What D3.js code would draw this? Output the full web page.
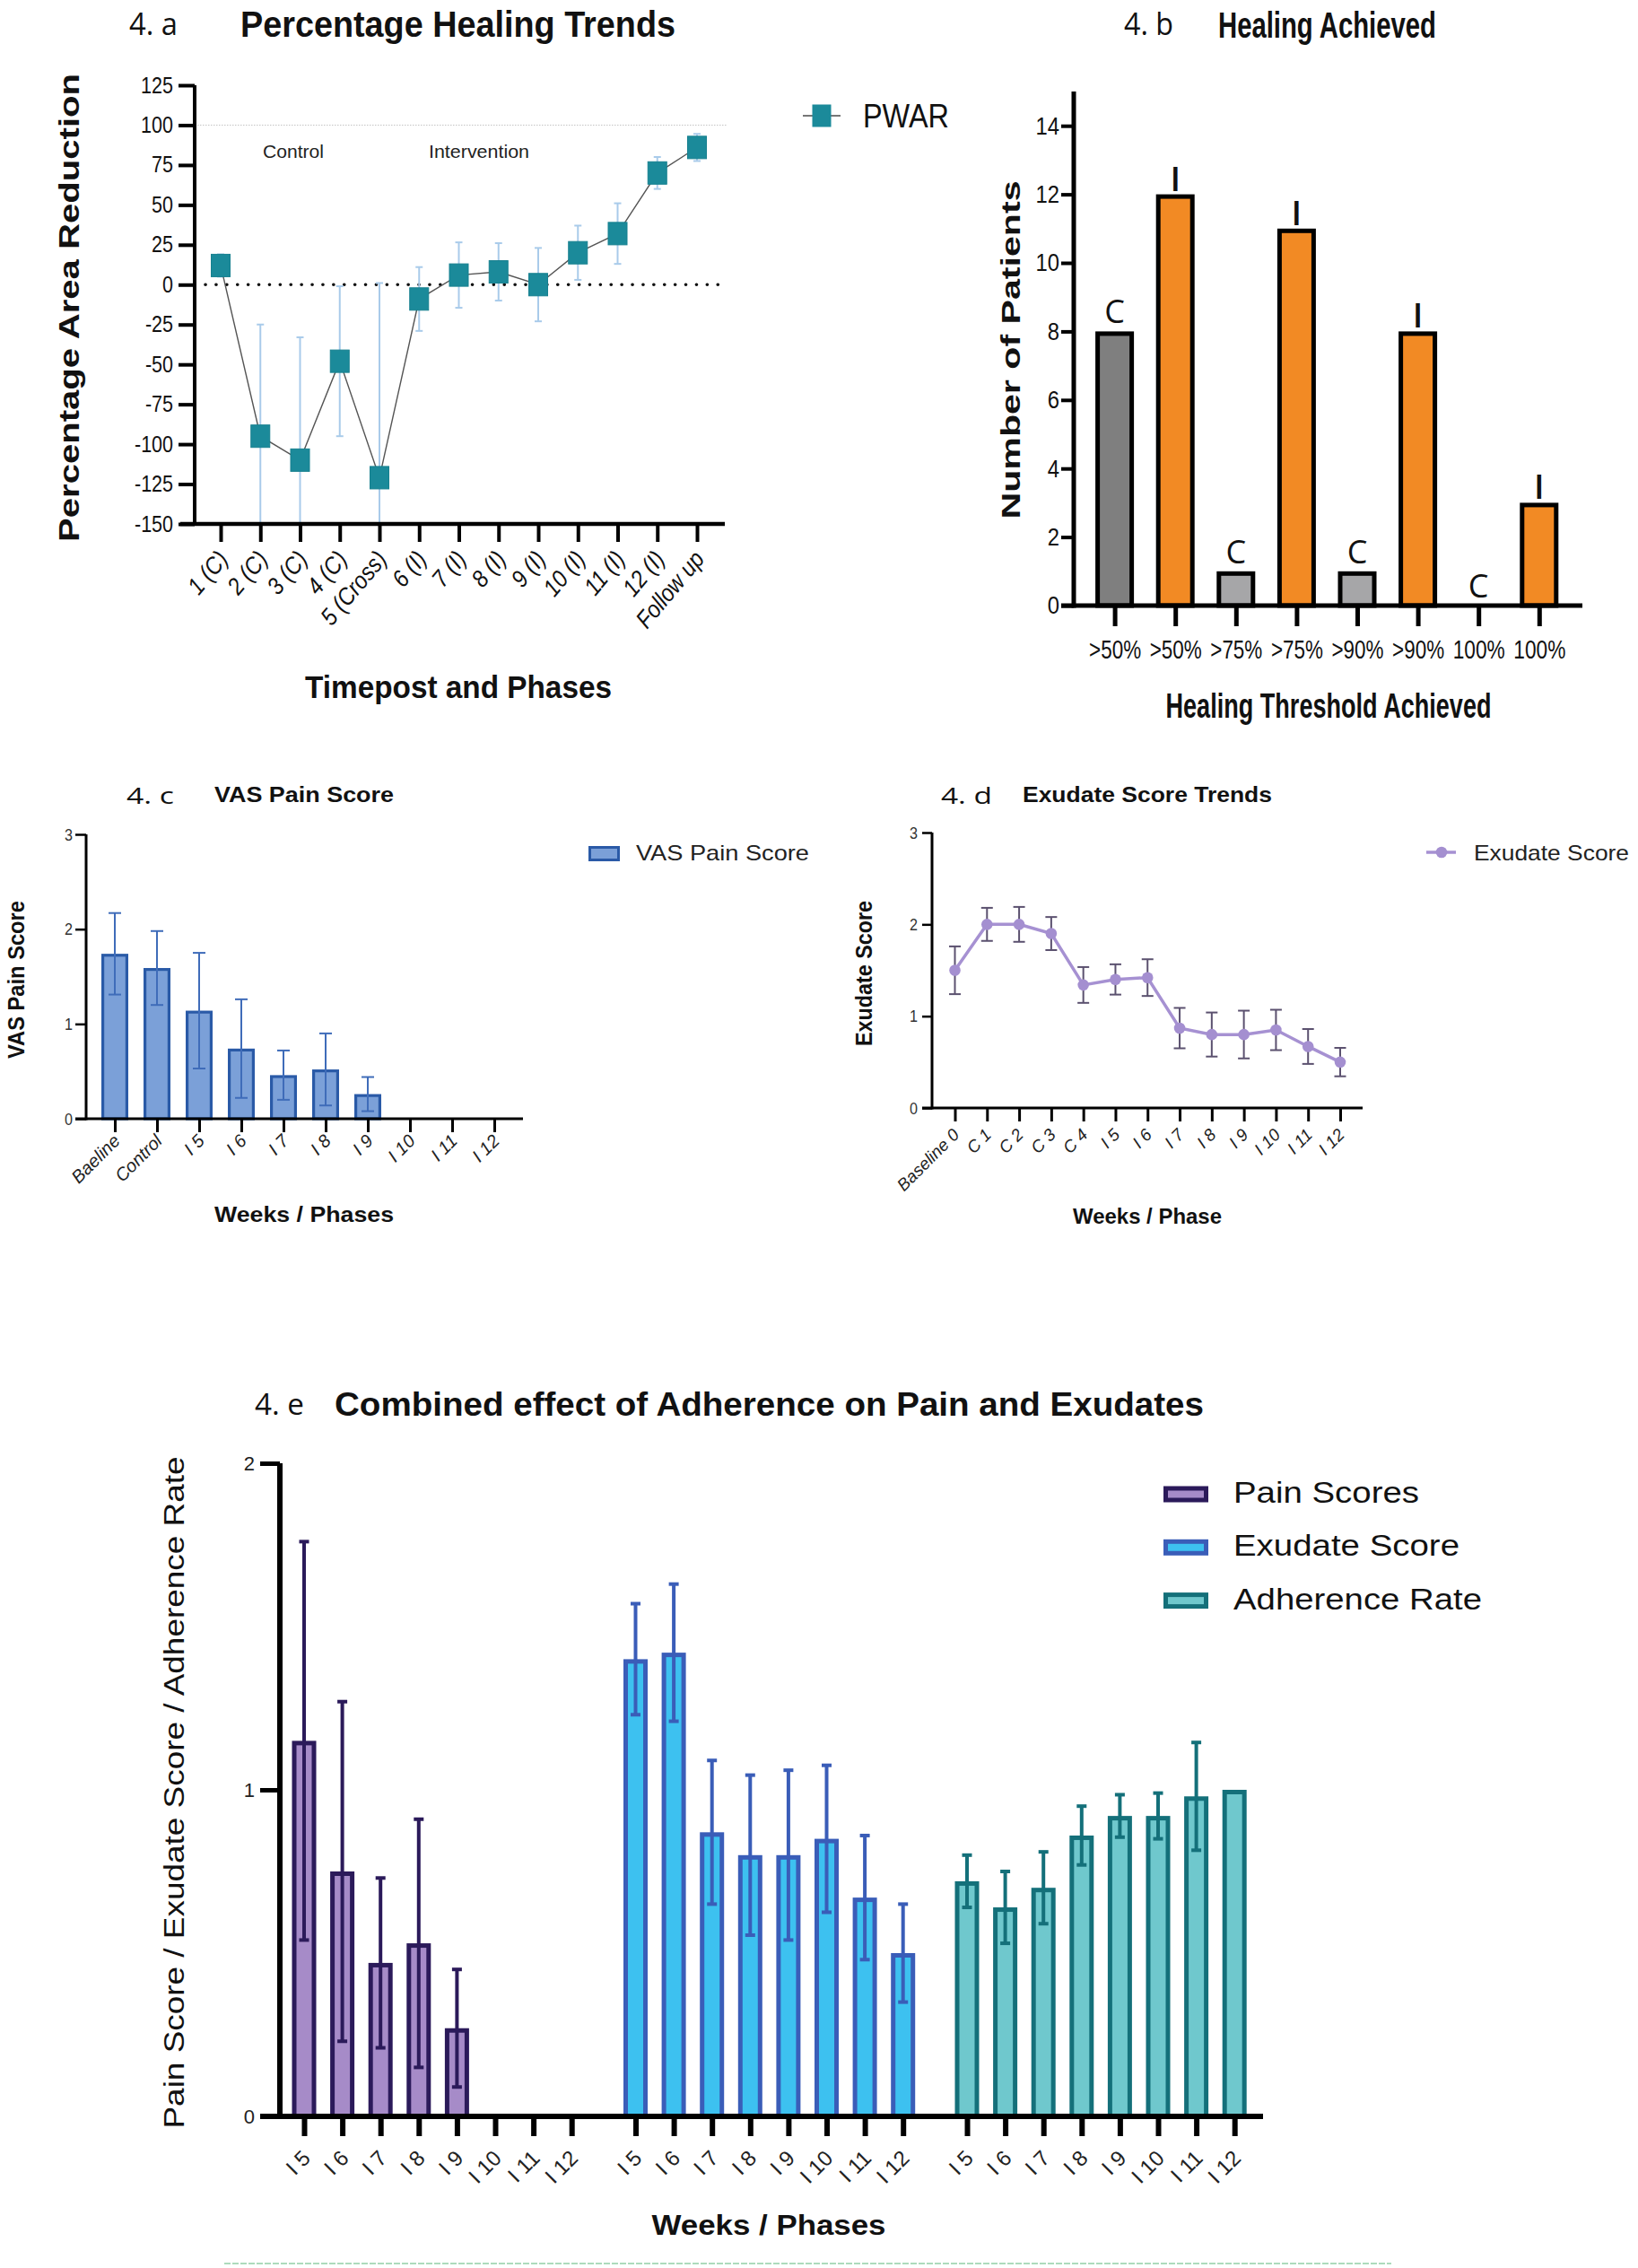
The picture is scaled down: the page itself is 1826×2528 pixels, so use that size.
<!DOCTYPE html>
<html><head><meta charset="utf-8">
<script src="https://cdn.jsdelivr.net/npm/d3@7"></script>
<style>body{margin:0;background:#fff}</style>
</head><body>
<svg id="c" width="1826" height="2528"></svg>
<script>
// ---------- DATA ----------
// 4.a Percentage Healing Trends
const timeposts = ["1 (C)","2 (C)","3 (C)","4 (C)","5 (Cross)","6 (I)","7 (I)","8 (I)","9 (I)","10 (I)","11 (I)","12 (I)","Follow up"];
const pwarMean = [12, -95, -110, -48, -121, -9, 6, 8, 0, 20, 32, 70, 86];
const pwarSD   = [7, 70, 77, 47, 122, 20, 20.5, 18, 23, 17, 19, 10, 8.5];
const pwarTicks = [-150,-125,-100,-75,-50,-25,0,25,50,75,100,125];

// 4.b Healing Achieved
const thresholds = [">50%",">50%",">75%",">75%",">90%",">90%","100%","100%"];
const armLabels  = ["C","I","C","I","C","I","C","I"];
const patients   = [8, 12, 1, 11, 1, 8, 0, 3];
const patientTicks = [0,2,4,6,8,10,12,14];

// 4.c VAS Pain Score
const vasWeeks = ["Baeline","Control","I 5","I 6","I 7","I 8","I 9","I 10","I 11","I 12"];
const vasMean  = [1.74, 1.59, 1.14, 0.74, 0.46, 0.52, 0.26, 0, 0, 0];
const vasSD    = [0.43, 0.39, 0.61, 0.52, 0.26, 0.38, 0.18, 0, 0, 0];
const scoreTicks = [0,1,2,3];

// 4.d Exudate Score Trends
const exWeeks = ["Baseline 0","C 1","C 2","C 3","C 4","I 5","I 6","I 7","I 8","I 9","I 10","I 11","I 12"];
const exMean  = [1.5, 2.0, 2.0, 1.9, 1.34, 1.4, 1.42, 0.87, 0.8, 0.8, 0.85, 0.67, 0.5];
const exSD    = [0.26, 0.18, 0.19, 0.18, 0.195, 0.165, 0.2, 0.22, 0.24, 0.26, 0.22, 0.19, 0.155];

// 4.e Combined effect
const weeksE = ["I 5","I 6","I 7","I 8","I 9","I 10","I 11","I 12"];
const seriesE = ["Pain Scores","Exudate Score","Adherence Rate"];
const painMean = [1.15, 0.75, 0.47, 0.53, 0.27, 0, 0, 0];
const painSD   = [0.61, 0.52, 0.26, 0.38, 0.18, 0, 0, 0];
const exudMean = [1.40, 1.42, 0.87, 0.80, 0.80, 0.85, 0.67, 0.50];
const exudSD   = [0.17, 0.21, 0.22, 0.245, 0.26, 0.225, 0.19, 0.15];
const adhMean  = [0.72, 0.64, 0.70, 0.86, 0.92, 0.92, 0.98, 1.0];
const adhSD    = [0.08, 0.11, 0.11, 0.09, 0.065, 0.07, 0.165, 0];
const combTicks = [0,1,2];

// ---------- STYLE ----------
const SANS = "'Liberation Sans', Arial, Helvetica, sans-serif";
const LBL = "'Open Sans', 'Noto Sans', sans-serif";
const thrFills = ["#7f7f7f","#f28a24","#a6a6a8","#f28a24","#a6a6a8","#f28a24","#a6a6a8","#f28a24"];
const fillsE = ["#a68bc8","#3dc1f0","#6fc8cd"];
const strokesE = ["#2b1a5a","#3a5db8","#14707a"];
const plain = d => String(d);

const svg = d3.select("#c");
svg.append("rect").attr("width",1826).attr("height",2528).attr("fill","#fff");

function txt(g, o) {
  const t = g.append("text")
    .attr("transform", `translate(${o.x},${o.y})` + (o.rotate ? ` rotate(${o.rotate})` : ""))
    .attr("text-anchor", o.anchor || "start")
    .style("font-family", o.family || SANS)
    .style("font-size", o.size + "px")
    .style("font-weight", o.weight || "normal")
    .style("font-style", o.italic ? "italic" : "normal")
    .attr("fill", o.fill || "#111")
    .text(o.text);
  if (o.len) t.attr("textLength", o.len).attr("lengthAdjust", "spacingAndGlyphs");
  return t;
}
function condense(sel, f) {
  sel.each(function () {
    const L = this.getComputedTextLength();
    if (L > 0) d3.select(this).attr("textLength", L * f).attr("lengthAdjust", "spacingAndGlyphs");
  });
}
function styleAxis(g, sw, fs, fill, opts = {}) {
  g.select(".domain").remove();
  g.selectAll(".tick line").attr("stroke", "#000").attr("stroke-width", sw);
  g.selectAll(".tick text").style("font-family", opts.family || SANS).style("font-size", fs + "px")
    .style("font-style", opts.italic ? "italic" : "normal").attr("fill", fill || "#111");
}
function rotLabels(g, dx, dy, ang = -45) {
  g.selectAll(".tick text").attr("x", 0).attr("y", 0).attr("dy", "0")
    .attr("text-anchor", "end").attr("transform", `translate(${dx},${dy}) rotate(${ang})`);
}
function hline(g, x1, x2, y, sw, col) {
  g.append("line").attr("x1", x1).attr("x2", x2).attr("y1", y).attr("y2", y).attr("stroke", col || "#000").attr("stroke-width", sw);
}
function vline(g, x, y1, y2, sw, col) {
  g.append("line").attr("x1", x).attr("x2", x).attr("y1", y1).attr("y2", y2).attr("stroke", col || "#000").attr("stroke-width", sw);
}
function errorBars(g, rows, y, o) {
  rows = rows.filter(d => d.s > 0);
  const lo = o.lo ?? -Infinity, hi = o.hi ?? Infinity;
  g.selectAll(null).data(rows).join("line")
    .attr("x1", d => d.cx).attr("x2", d => d.cx)
    .attr("y1", d => y(Math.min(d.m + d.s, hi))).attr("y2", d => y(Math.max(d.m - d.s, lo)))
    .attr("stroke", o.color).attr("stroke-width", o.sw);
  g.selectAll(null).data(rows.filter(d => d.m + d.s <= hi)).join("line")
    .attr("x1", d => d.cx - o.cap / 2).attr("x2", d => d.cx + o.cap / 2)
    .attr("y1", d => y(d.m + d.s)).attr("y2", d => y(d.m + d.s))
    .attr("stroke", o.color).attr("stroke-width", o.sw);
  g.selectAll(null).data(rows.filter(d => d.m - d.s >= lo)).join("line")
    .attr("x1", d => d.cx - o.cap / 2).attr("x2", d => d.cx + o.cap / 2)
    .attr("y1", d => y(d.m - d.s)).attr("y2", d => y(d.m - d.s))
    .attr("stroke", o.color).attr("stroke-width", o.sw);
}
function bars(g, rows, y, o) {
  const sw = o.sw, w = o.w;
  g.selectAll(null).data(rows.filter(d => d.m > 0)).join("rect")
    .attr("x", d => d.cx - (w - sw) / 2).attr("width", w - sw)
    .attr("y", d => y(d.m) + sw / 2).attr("height", d => Math.max(0, y(0) - y(d.m) - sw / 2))
    .attr("fill", d => d.fill || o.fill).attr("stroke", o.stroke).attr("stroke-width", sw);
}

// ================= 4.a =================
{
  const g = svg.append("g");
  const y = d3.scaleLinear().domain([-150, 125]).range([584, 95]);
  const x = d3.scalePoint().domain(timeposts).range([246, 777]);
  const rows = timeposts.map((k, i) => ({ k, cx: x(k), m: pwarMean[i], s: pwarSD[i] }));

  txt(g, { x: 144, y: 39, text: "4. a", size: 34, family: LBL, len: 54 });
  txt(g, { x: 268, y: 41, text: "Percentage Healing Trends", size: 40, weight: "bold", len: 485 });

  g.append("line").attr("x1", 217).attr("x2", 810).attr("y1", y(100)).attr("y2", y(100))
    .attr("stroke", "#c4c4c4").attr("stroke-width", 1).attr("stroke-dasharray", "1.5 1.5");
  g.append("line").attr("x1", 229).attr("x2", 812).attr("y1", y(0)).attr("y2", y(0))
    .attr("stroke", "#111").attr("stroke-width", 3.6).attr("stroke-linecap", "round").attr("stroke-dasharray", "0.1 11.8");

  txt(g, { x: 293, y: 176, text: "Control", size: 21, len: 68, fill: "#222" });
  txt(g, { x: 478, y: 176, text: "Intervention", size: 21, len: 112, fill: "#222" });

  errorBars(g, rows, y, { color: "#a9cbea", sw: 2, cap: 8, lo: -150, hi: 125 });
  g.append("path").datum(rows).attr("fill", "none").attr("stroke", "#555").attr("stroke-width", 1.4)
    .attr("d", d3.line().x(d => d.cx).y(d => y(d.m)));
  g.selectAll(null).data(rows).join("rect")
    .attr("x", d => d.cx - 10.5).attr("y", d => y(d.m) - 12.5).attr("width", 21).attr("height", 25)
    .attr("fill", "#1b8a9a").attr("stroke", "#17808f").attr("stroke-width", 1);

  const ya = g.append("g").attr("transform", "translate(217,0)")
    .call(d3.axisLeft(y).tickValues(pwarTicks).tickFormat(plain).tickSize(18).tickPadding(6).tickSizeOuter(0));
  styleAxis(ya, 4, 25, "#111");
  condense(ya.selectAll(".tick text"), 0.86);
  vline(g, 217, y(125), y(-150) + 2, 4);
  const xa = g.append("g").attr("transform", `translate(0,${y(-150)})`)
    .call(d3.axisBottom(x).tickSize(20).tickSizeOuter(0));
  styleAxis(xa, 4, 27, "#111", { italic: true });
  rotLabels(xa, 9, 40, -50);
  condense(xa.selectAll(".tick text"), 0.88);
  hline(g, 201, 808, y(-150), 4.5);

  txt(g, { x: 511, y: 778, text: "Timepost and Phases", size: 35, weight: "bold", anchor: "middle", len: 342 });
  txt(g, { x: 88, y: 343, rotate: -90, text: "Percentage Area Reduction", size: 32, weight: "bold", anchor: "middle", len: 522 });

  hline(g, 895, 937, 129, 2, "#777");
  g.append("rect").attr("x", 905.5).attr("y", 116.5).attr("width", 21).attr("height", 25).attr("fill", "#1b8a9a");
  txt(g, { x: 962, y: 142, text: "PWAR", size: 37, len: 96 });
}

// ================= 4.b =================
{
  const g = svg.append("g");
  const y = d3.scaleLinear().domain([0, 15]).range([675, 102]);
  const x = d3.scalePoint().domain(d3.range(thresholds.length)).range([1242.6, 1715.8]);
  const rows = patients.map((v, i) => ({ cx: x(i), m: v, fill: thrFills[i], lab: armLabels[i] }));

  txt(g, { x: 1253, y: 39, text: "4. b", size: 34, family: LBL, len: 55 });
  txt(g, { x: 1358, y: 42, text: "Healing Achieved", size: 40, weight: "bold", len: 243 });

  bars(g, rows, y, { w: 43, sw: 5, stroke: "#000" });
  g.selectAll(null).data(rows).join("text")
    .attr("x", d => d.cx).attr("y", d => y(d.m) - (d.lab === "C" ? 9 : 4))
    .attr("text-anchor", "middle").style("font-family", LBL)
    .style("font-size", d => d.lab === "I" ? "38px" : "36px")
    .style("font-weight", d => d.lab === "I" ? "600" : "normal")
    .attr("fill", "#111").text(d => d.lab);

  const ya = g.append("g").attr("transform", "translate(1197,0)")
    .call(d3.axisLeft(y).tickValues(patientTicks).tickFormat(plain).tickSize(14).tickPadding(2).tickSizeOuter(0));
  styleAxis(ya, 4, 28, "#111");
  condense(ya.selectAll(".tick text"), 0.85);
  vline(g, 1197, y(15), y(0) + 2.5, 5);
  const xa = g.append("g").attr("transform", `translate(0,${y(0)})`)
    .call(d3.axisBottom(x).tickFormat(i => thresholds[i]).tickSize(23).tickSizeOuter(0));
  styleAxis(xa, 5, 29, "#111");
  xa.selectAll(".tick text").attr("y", 59).attr("dy", "0").attr("textLength", 58).attr("lengthAdjust", "spacingAndGlyphs");
  hline(g, 1183, 1764, y(0), 5);

  txt(g, { x: 1481, y: 800, text: "Healing Threshold Achieved", size: 38, weight: "bold", anchor: "middle", len: 363 });
  txt(g, { x: 1137, y: 390, rotate: -90, text: "Number of Patients", size: 29, weight: "bold", anchor: "middle", len: 377 });
}

// ================= 4.c =================
{
  const g = svg.append("g");
  const y = d3.scaleLinear().domain([0, 3]).range([1247, 930]);
  const x = d3.scalePoint().domain(vasWeeks).range([128, 551]);
  const rows = vasWeeks.map((k, i) => ({ cx: x(k), m: vasMean[i], s: vasSD[i] }));

  txt(g, { x: 141, y: 896, text: "4. c", size: 26, family: LBL, len: 53 });
  txt(g, { x: 239, y: 894, text: "VAS Pain Score", size: 24, weight: "bold", len: 200 });

  bars(g, rows, y, { w: 30, sw: 3.2, fill: "#7ba0d8", stroke: "#2a5aa7" });
  errorBars(g, rows, y, { color: "#3f6cb9", sw: 2, cap: 14 });

  const ya = g.append("g").attr("transform", "translate(96,0)")
    .call(d3.axisLeft(y).tickValues(scoreTicks).tickFormat(plain).tickSize(12).tickPadding(3).tickSizeOuter(0));
  styleAxis(ya, 2.5, 19, "#333");
  condense(ya.selectAll(".tick text"), 0.85);
  vline(g, 96, 930, 1248.5, 3);
  const xa = g.append("g").attr("transform", "translate(0,1247)")
    .call(d3.axisBottom(x).tickSize(15).tickSizeOuter(0));
  styleAxis(xa, 3, 20, "#222", { italic: true });
  rotLabels(xa, 6.5, 26);
  hline(g, 84, 583, 1247, 3);

  txt(g, { x: 339, y: 1362, text: "Weeks / Phases", size: 24, weight: "bold", anchor: "middle", len: 200 });
  txt(g, { x: 27, y: 1092, rotate: -90, text: "VAS Pain Score", size: 26, weight: "bold", anchor: "middle", len: 176 });

  g.append("rect").attr("x", 657.5).attr("y", 944.5).attr("width", 32).attr("height", 14)
    .attr("fill", "#7ba0d8").attr("stroke", "#2a5aa7").attr("stroke-width", 3);
  txt(g, { x: 709, y: 959, text: "VAS Pain Score", size: 24, len: 193, fill: "#222" });
}

// ================= 4.d =================
{
  const g = svg.append("g");
  const y = d3.scaleLinear().domain([0, 3]).range([1235, 928]);
  const x = d3.scalePoint().domain(exWeeks).range([1064.5, 1494]);
  const rows = exWeeks.map((k, i) => ({ cx: x(k), m: exMean[i], s: exSD[i] }));

  txt(g, { x: 1049, y: 896, text: "4. d", size: 26, family: LBL, len: 57 });
  txt(g, { x: 1140, y: 894, text: "Exudate Score Trends", size: 24, weight: "bold", len: 278 });

  errorBars(g, rows, y, { color: "#5b516f", sw: 2, cap: 13 });
  g.append("path").datum(rows).attr("fill", "none").attr("stroke", "#a691d2").attr("stroke-width", 3.5)
    .attr("d", d3.line().x(d => d.cx).y(d => y(d.m)));
  g.selectAll(null).data(rows).join("circle")
    .attr("cx", d => d.cx).attr("cy", d => y(d.m)).attr("r", 6.3).attr("fill", "#a48fd0");

  const ya = g.append("g").attr("transform", "translate(1039,0)")
    .call(d3.axisLeft(y).tickValues(scoreTicks).tickFormat(plain).tickSize(11).tickPadding(5).tickSizeOuter(0));
  styleAxis(ya, 2.5, 19, "#333");
  condense(ya.selectAll(".tick text"), 0.85);
  vline(g, 1039, 928, 1236.5, 3);
  const xa = g.append("g").attr("transform", "translate(0,1235)")
    .call(d3.axisBottom(x).tickSize(15).tickSizeOuter(0));
  styleAxis(xa, 3, 19, "#222", { italic: true });
  rotLabels(xa, 5.5, 31);
  hline(g, 1028, 1519, 1235, 3);

  txt(g, { x: 1279, y: 1364, text: "Weeks / Phase", size: 24, weight: "bold", anchor: "middle", len: 166 });
  txt(g, { x: 972, y: 1085, rotate: -90, text: "Exudate Score", size: 26, weight: "bold", anchor: "middle", len: 162 });

  hline(g, 1590, 1623, 950, 3.5, "#a691d2");
  g.append("circle").attr("cx", 1607).attr("cy", 950).attr("r", 6.3).attr("fill", "#a48fd0");
  txt(g, { x: 1643, y: 958.5, text: "Exudate Score", size: 24, len: 173, fill: "#222" });
}

// ================= 4.e =================
{
  const g = svg.append("g");
  const y = d3.scaleLinear().domain([0, 2]).range([2359, 1631]);
  const inner = d3.scalePoint().domain(weeksE).range([0, 298.2]);
  const group = d3.scalePoint().domain(seriesE).range([339, 1078]);
  const means = [painMean, exudMean, adhMean], sds = [painSD, exudSD, adhSD];

  txt(g, { x: 284, y: 1577, text: "4. e", size: 32, family: LBL, len: 55 });
  txt(g, { x: 373, y: 1578, text: "Combined effect of Adherence on Pain and Exudates", size: 36, weight: "bold", len: 969 });

  seriesE.forEach((s, si) => {
    const rows = weeksE.map((k, i) => ({ cx: group(s) + inner(k), m: means[si][i], s: sds[si][i] }));
    bars(g, rows, y, { w: 27, sw: 5, fill: fillsE[si], stroke: strokesE[si] });
    errorBars(g, rows.filter(d => d.m > 0), y, { color: strokesE[si], sw: 4, cap: 11 });
    const xa = g.append("g").attr("transform", `translate(${group(s)},2359)`)
      .call(d3.axisBottom(inner).tickSize(22).tickSizeOuter(0));
    styleAxis(xa, 6, 24, "#222");
    rotLabels(xa, 8, 48);
  });

  const ya = g.append("g").attr("transform", "translate(312,0)")
    .call(d3.axisLeft(y).tickValues(combTicks).tickFormat(plain).tickSize(22).tickPadding(6).tickSizeOuter(0));
  styleAxis(ya, 5, 22, "#222");
  vline(g, 312, 1631, 2362, 6);
  hline(g, 290, 1408, 2359, 6);

  txt(g, { x: 857, y: 2491, text: "Weeks / Phases", size: 31, weight: "bold", anchor: "middle", len: 261 });
  txt(g, { x: 205, y: 1998, rotate: -90, text: "Pain Score / Exudate Score / Adherence Rate", size: 32, anchor: "middle", len: 749 });

  const legLens = [207, 252, 277];
  seriesE.forEach((s, si) => {
    const cy = 1665.5 + si * 59.3;
    g.append("rect").attr("x", 1299.5).attr("y", cy - 6.5).attr("width", 45).attr("height", 13)
      .attr("fill", fillsE[si]).attr("stroke", strokesE[si]).attr("stroke-width", 5);
    txt(g, { x: 1375, y: cy + 9.5, text: s, size: 33, len: legLens[si] });
  });

  g.append("line").attr("x1", 250).attr("x2", 1551).attr("y1", 2523).attr("y2", 2523)
    .attr("stroke", "#93cfa6").attr("stroke-width", 1.5).attr("stroke-dasharray", "7 2");
}
</script>
</body></html>
